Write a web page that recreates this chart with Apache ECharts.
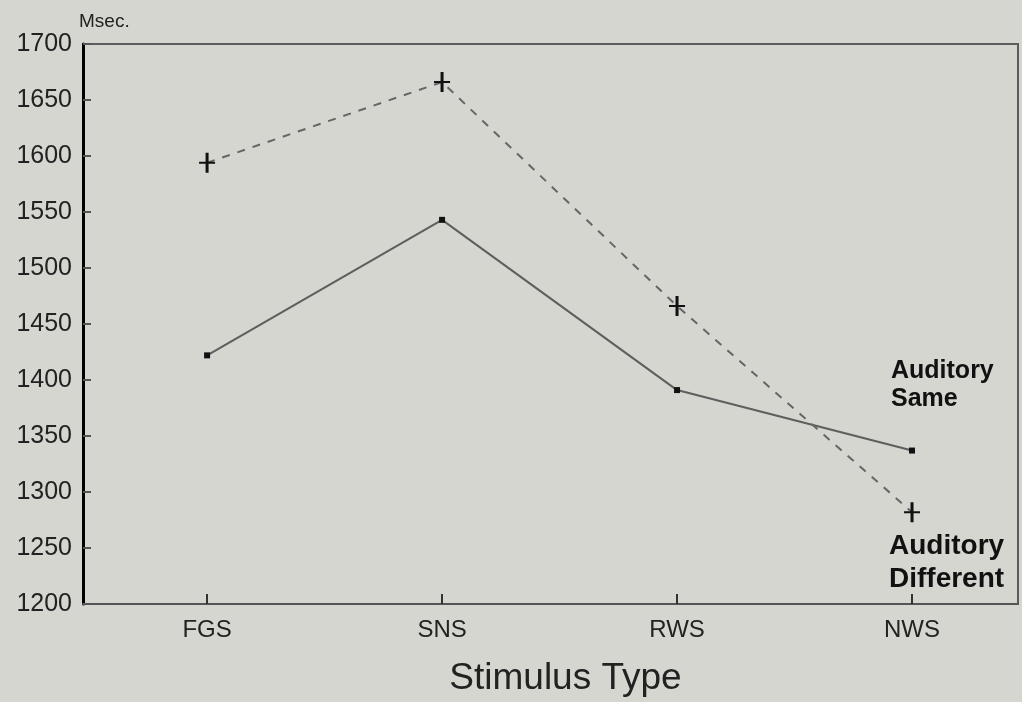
<!DOCTYPE html>
<html>
<head>
<meta charset="utf-8">
<script src="https://cdn.jsdelivr.net/npm/echarts@6/dist/echarts.min.js"></script>
<style>
  html, body { margin: 0; padding: 0; background: #d4d6cf; }
  #chart { width: 1022px; height: 702px; }
</style>
</head>
<body>
<div id="chart"></div>
<script>
  let categories = ['FGS', 'SNS', 'RWS', 'NWS']
  let auditorySame = [1422, 1543, 1391, 1337]
  let auditoryDifferent = [1594, 1666, 1466, 1282]
  let yTicks = [1200, 1250, 1300, 1350, 1400, 1450, 1500, 1550, 1600, 1650, 1700]

  // x is a value axis on the category index so the plot box can be uneven on both sides
  let toPoints = function (arr) {
    return arr.map(function (v, i) { return [i, v] })
  }
  let catIndex = categories.map(function (c, i) { return i })

  let plusPath = 'path://M-1.5,-10H1.5V-1H8V1H1.5V10H-1.5V1H-8V-1H-1.5Z'
  let font = '"Liberation Sans", Arial, sans-serif'

  let myChart = echarts.init(document.getElementById('chart'))
  let option = {
    backgroundColor: '#d4d6cf',
    animation: false,
    grid: {
      left: 83,
      right: 4,
      top: 44,
      bottom: 95,
      show: true,
      borderColor: '#5c5c5c',
      borderWidth: 2
    },
    xAxis: {
      type: 'value',
      min: -0.528,
      max: 3.451,
      splitLine: { show: false },
      axisLine: { show: true, onZero: false, lineStyle: { color: '#555', width: 2 } },
      axisTick: {
        show: true,
        inside: true,
        length: 10,
        customValues: catIndex,
        lineStyle: { color: '#333', width: 2 }
      },
      axisLabel: {
        customValues: catIndex,
        margin: 14,
        color: '#222',
        fontFamily: font,
        fontSize: 24,
        formatter: function (v) { return categories[Math.round(v)] }
      },
      name: 'Stimulus Type',
      nameLocation: 'middle',
      nameGap: 56,
      nameTextStyle: {
        color: '#222',
        fontFamily: font,
        fontSize: 37,
        padding: [0, 0, 0, 30]
      }
    },
    yAxis: {
      type: 'value',
      min: yTicks[0],
      max: yTicks[yTicks.length - 1],
      interval: 50,
      splitLine: { show: false },
      axisLine: { show: true, onZero: false, lineStyle: { color: '#000', width: 3 } },
      axisTick: { show: true, inside: true, length: 8, lineStyle: { color: '#555', width: 2 } },
      axisLabel: {
        margin: 11,
        color: '#222',
        fontFamily: font,
        fontSize: 25,
        formatter: function (v) { return String(v) }
      },
      name: 'Msec.',
      nameLocation: 'end',
      nameGap: 13,
      nameTextStyle: {
        align: 'left',
        color: '#222',
        fontFamily: font,
        fontSize: 19,
        padding: [0, 0, 0, -4]
      }
    },
    series: [
      {
        name: 'Auditory Same',
        type: 'line',
        data: toPoints(auditorySame),
        symbol: 'rect',
        symbolSize: 6,
        itemStyle: { color: '#111' },
        lineStyle: { color: '#5e5e5e', width: 2 }
      },
      {
        name: 'Auditory Different',
        type: 'line',
        data: toPoints(auditoryDifferent),
        symbol: plusPath,
        symbolSize: [16, 20],
        symbolKeepAspect: false,
        itemStyle: { color: '#111' },
        lineStyle: { color: '#666', width: 2, type: [8, 8] }
      }
    ],
    graphic: [
      {
        type: 'text',
        left: 891,
        top: 357,
        style: {
          text: 'Auditory\nSame',
          fill: '#111',
          font: 'bold 25px ' + font,
          lineHeight: 28
        }
      },
      {
        type: 'text',
        left: 889,
        top: 530,
        style: {
          text: 'Auditory\nDifferent',
          fill: '#111',
          font: 'bold 28px ' + font,
          lineHeight: 33
        }
      }
    ]
  }
  myChart.setOption(option)
</script>
</body>
</html>
